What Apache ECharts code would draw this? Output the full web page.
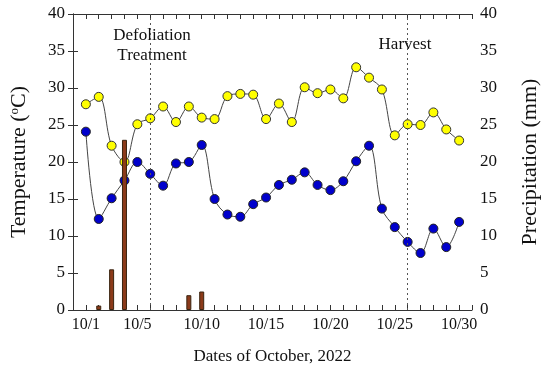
<!DOCTYPE html>
<html>
<head>
<meta charset="utf-8">
<script src="https://cdn.jsdelivr.net/npm/echarts@6/dist/echarts.min.js"></script>
<style>html,body{margin:0;padding:0;background:#fff;}#c{width:550px;height:371px;}</style>
</head>
<body>
<div id="c"></div>
<script>
var days = [1,2,3,4,5,6,7,8,9,10,11,12,13,14,15,16,17,18,19,20,21,22,23,24,25,26,27,28,29,30];
var tmax = [27.8,28.8,22.2,20.0,25.1,25.9,27.5,25.4,27.5,26.0,25.8,28.9,29.2,29.1,25.8,27.9,25.4,30.1,29.3,29.8,28.6,32.8,31.4,29.8,23.6,25.1,25.0,26.7,24.4,22.9];
var tmin = [24.1,12.3,15.1,17.5,20.0,18.4,16.8,19.8,20.0,22.3,15.0,12.9,12.6,14.3,15.2,16.9,17.6,18.6,16.9,16.2,17.4,20.1,22.2,13.7,11.2,9.2,7.7,11.0,8.5,11.9];
var precipDays = [2,3,4,9,10];
var precipVals = [0.6,5.5,23.0,2.0,2.5];
var xLabelDays = [1,5,10,15,20,25,30];
var eventDays = [6,26];

var font = 'Liberation Serif';
function pairs(xs, ys){ return xs.map(function(x,i){ return [x, ys[i]]; }); }

var chart = echarts.init(document.getElementById('c'), null, {renderer:'canvas'});
var axisLineStyle = {color:'#333', width:1};
chart.setOption({
  animation:false,
  backgroundColor:'#fff',
  grid:{left:72, right:78, top:14, bottom:61, containLabel:false},
  xAxis:[{
    type:'value', min:0, max:31, interval:1, position:'bottom',
    axisLine:{show:true, onZero:false, lineStyle:axisLineStyle},
    axisTick:{show:true, inside:true, length:5, lineStyle:axisLineStyle},
    splitLine:{show:false},
    axisLabel:{fontFamily:font, fontSize:16, color:'#111', margin:7,
      formatter:function(v){ return xLabelDays.indexOf(v) >= 0 ? '10/' + v : ''; }},
    name:'Dates of October, 2022', nameLocation:'middle', nameGap:38,
    nameTextStyle:{fontFamily:font, fontSize:17, color:'#111'}
  },{
    type:'value', min:0, max:31, interval:1, position:'top',
    axisLine:{show:true, onZero:false, lineStyle:axisLineStyle},
    axisTick:{show:true, inside:true, length:5, lineStyle:axisLineStyle},
    splitLine:{show:false}, axisLabel:{show:false}
  }],
  yAxis:[{
    type:'value', min:0, max:40, interval:5, position:'left',
    axisLine:{show:true, lineStyle:axisLineStyle},
    axisTick:{show:true, inside:true, length:5, lineStyle:axisLineStyle},
    splitLine:{show:false},
    axisLabel:{fontFamily:font, fontSize:17, color:'#111', margin:8},
    name:'Temperature ({sup|o}C)', nameLocation:'middle', nameGap:42, nameRotate:90,
    nameTextStyle:{fontFamily:font, fontSize:22, color:'#111',
      rich:{sup:{fontFamily:font, fontSize:13, color:'#111', verticalAlign:'top', padding:[0,0,10,0]}}}
  },{
    type:'value', min:0, max:40, interval:5, position:'right',
    axisLine:{show:true, lineStyle:axisLineStyle},
    axisTick:{show:true, inside:true, length:5, lineStyle:axisLineStyle},
    splitLine:{show:false},
    axisLabel:{fontFamily:font, fontSize:17, color:'#111', margin:8},
    name:'Precipitation (mm)', nameLocation:'middle', nameGap:47, nameRotate:90,
    nameTextStyle:{fontFamily:font, fontSize:22, color:'#111'}
  }],
  series:[{
    type:'line', name:'max', xAxisIndex:0, yAxisIndex:0,
    data:pairs(days, tmax), smooth:0.35,
    symbol:'circle', symbolSize:9,
    lineStyle:{color:'#444', width:1},
    itemStyle:{color:'#ffff00', borderColor:'#333', borderWidth:1},
    z:3,
    markLine:{silent:true, symbol:'none', label:{show:false},
      lineStyle:{color:'#555', type:[2,3], width:1},
      data:eventDays.map(function(d){ return {xAxis:d}; })}
  },{
    type:'line', name:'min', xAxisIndex:0, yAxisIndex:0,
    data:pairs(days, tmin), smooth:0.35,
    symbol:'circle', symbolSize:9,
    lineStyle:{color:'#444', width:1},
    itemStyle:{color:'#0000cc', borderColor:'#222', borderWidth:1},
    z:3
  },{
    type:'bar', name:'precip', xAxisIndex:0, yAxisIndex:1,
    data:pairs(precipDays, precipVals), barWidth:5,
    itemStyle:{color:'#8b3a1a', borderColor:'#3a2410', borderWidth:1},
    z:5
  }],
  graphic:[
    {type:'text', x:152, y:36, style:{text:'Defoliation', font:'17px "Liberation Serif"', fill:'#111', textAlign:'center', textVerticalAlign:'middle'}},
    {type:'text', x:152, y:56, style:{text:'Treatment', font:'17px "Liberation Serif"', fill:'#111', textAlign:'center', textVerticalAlign:'middle'}},
    {type:'text', x:405, y:45, style:{text:'Harvest', font:'17px "Liberation Serif"', fill:'#111', textAlign:'center', textVerticalAlign:'middle'}}
  ]
});
</script>
</body>
</html>
